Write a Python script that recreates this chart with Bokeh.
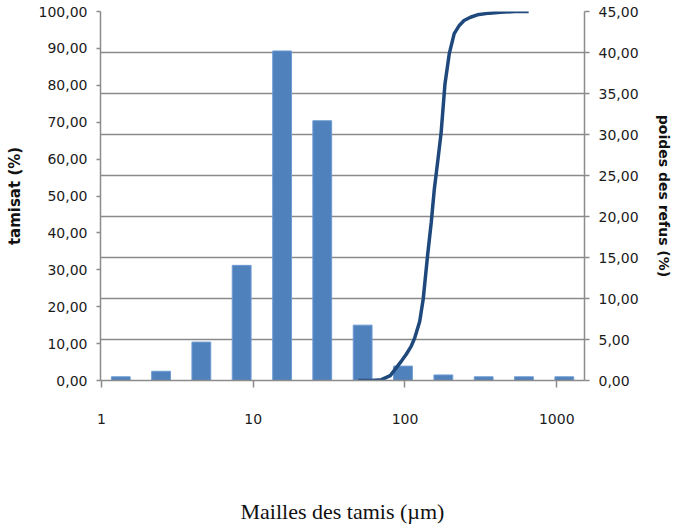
import math
from bokeh.plotting import figure
from bokeh.models import (Range1d, LinearAxis, FixedTicker, CustomJSTickFormatter, Grid)
from bokeh.embed import file_html
from bokeh.resources import INLINE

# --- data ---
bar_x = [1.34, 2.47, 4.55, 8.39, 15.5, 28.5, 52.6, 97.0, 179, 330, 608, 1122]
tamisat = [1.0, 2.5, 10.4, 31.2, 89.3, 70.4, 15.0, 3.9, 1.5, 1.0, 1.0, 1.0]

refus_x = [49.3, 60, 70, 80, 87.8, 95, 102, 110, 116, 125, 132, 141, 149, 156,
           165, 173, 183.5, 196, 211, 228, 245, 270, 300, 360, 426, 530, 653]
refus_y = [0.0, 0.0, 0.1, 0.6, 1.57, 2.4, 3.2, 4.2, 5.2, 7.2, 10.0, 15.3, 19.3, 23.3,
           27.0, 30.2, 36.2, 39.9, 42.3, 43.3, 43.9, 44.3, 44.6, 44.8, 44.9, 45.0, 45.0]

x_ticks = [1, 10, 100, 1000]
left_ticks = [0, 10, 20, 30, 40, 50, 60, 70, 80, 90, 100]
right_ticks = [0, 5, 10, 15, 20, 25, 30, 35, 40, 45]

BAR_HALF = 10 ** 0.062   # bar half-width as a factor on the log axis (style)

TICK_FONT = "DejaVu Sans"
TXT = "#1b1b1b"
AX = "#8c8c8c"

p = figure(width=674, height=526, x_axis_type="log",
           x_range=Range1d(0.985, 1524), y_range=Range1d(0, 100),
           output_backend="svg", toolbar_location=None,
           min_border_left=100, min_border_right=86, min_border_top=11, min_border_bottom=143)
p.extra_y_ranges = {"right": Range1d(0, 45)}
p.outline_line_color = None
p.xgrid.visible = False
p.ygrid.visible = False

# right axis
ra = LinearAxis(y_range_name="right", ticker=FixedTicker(ticks=right_ticks))
ra.formatter = CustomJSTickFormatter(code="return tick.toFixed(2).replace('.', ',');")
ra.axis_label = "poides des refus (%)"
p.add_layout(ra, "right")

g = Grid(dimension=1, axis=ra, y_range_name="right",
         grid_line_color="#8a8a8a", grid_line_width=1.6)
p.add_layout(g)

# bars
p.quad(left=[v / BAR_HALF for v in bar_x], right=[v * BAR_HALF for v in bar_x],
       bottom=0, top=tamisat,
       fill_color="#4f81bd", line_color="#6f9bd3", line_width=1)

# line
p.line(refus_x, refus_y, y_range_name="right", line_color="#1f497d", line_width=3.5)

# x axis
xa = p.xaxis[0]
xa.ticker = FixedTicker(ticks=x_ticks, minor_ticks=[])
xa.formatter = CustomJSTickFormatter(code="return tick.toFixed(0);")
xa.axis_label = "Mailles des tamis (\u00b5m)"
xa.axis_label_text_font = "Liberation Serif"
xa.axis_label_text_font_style = "normal"
xa.axis_label_text_font_size = "22px"
xa.axis_label_text_color = "#111111"
xa.axis_label_standoff = 72
xa.major_label_standoff = 26
xa.major_tick_out = 7
xa.major_tick_in = 0
xa.minor_tick_out = 0
xa.minor_tick_in = 0

# left axis
la = p.yaxis[0]
la.ticker = FixedTicker(ticks=left_ticks)
la.formatter = CustomJSTickFormatter(code="return tick.toFixed(2).replace('.', ',');")
la.axis_label = "tamisat (%)"
la.major_tick_out = 4
la.major_tick_in = 0
la.minor_tick_out = 0
la.minor_tick_in = 0
la.major_label_standoff = 9
la.axis_label_standoff = 12

ra.major_tick_out = 5
ra.major_tick_in = 0
ra.minor_tick_out = 0
ra.minor_tick_in = 0
ra.major_label_standoff = 9
ra.axis_label_standoff = 14

for a in (xa, la, ra):
    a.axis_line_color = AX
    a.axis_line_width = 1.5
    a.major_tick_line_color = AX
    a.major_tick_line_width = 1.5
    a.major_label_text_font = TICK_FONT
    a.major_label_text_font_size = "14px"
    a.major_label_text_color = TXT

for a in (la, ra):
    a.axis_label_text_font = "DejaVu Sans"
    a.axis_label_text_font_style = "bold"
    a.axis_label_text_font_size = "14px"
    a.axis_label_text_color = "#111111"
la.axis_label_text_font_size = "15px"

open("out.html", "w").write(file_html(p, INLINE))
